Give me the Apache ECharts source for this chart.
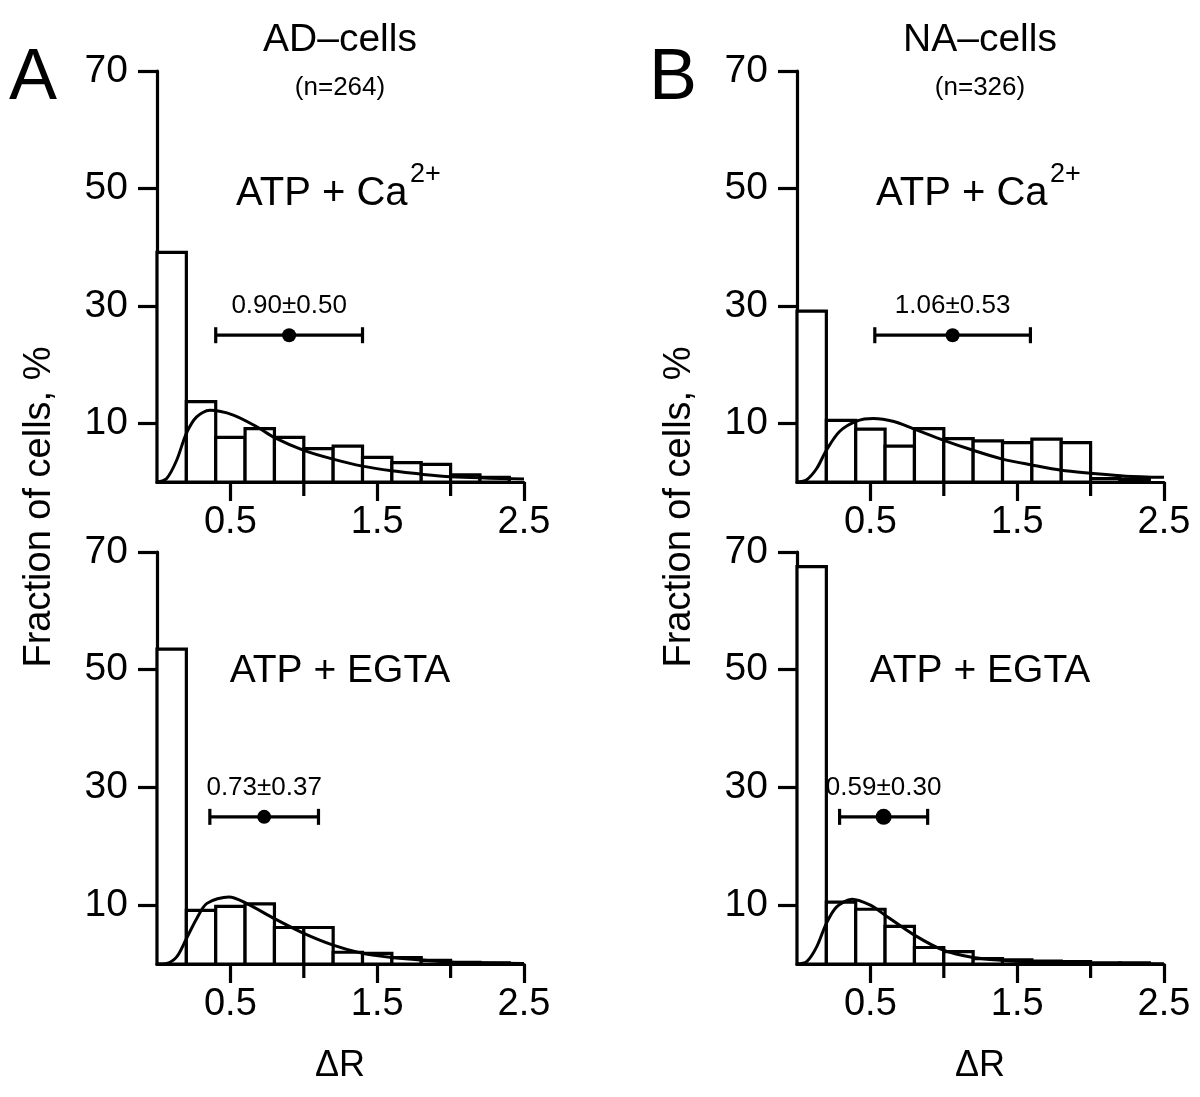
<!DOCTYPE html>
<html><head><meta charset="utf-8">
<script src="https://cdn.jsdelivr.net/npm/echarts@6/dist/echarts.min.js"></script>
<style>html,body{margin:0;padding:0;background:#fff}#c{width:1200px;height:1097px}</style>
</head><body><div id="c"></div>
<script>
// ---------- data ----------
const binEdges = [0, 0.2, 0.4, 0.6, 0.8, 1.0, 1.2, 1.4, 1.6, 1.8, 2.0, 2.2, 2.4];

const adCaBars   = [39.1, 13.7, 7.6, 9.1, 7.6, 5.7, 6.1, 4.2, 3.3, 3.0, 1.2, 0.8];
const adEgtaBars = [53.5, 9.1, 9.8, 10.2, 6.2, 6.2, 2.0, 1.8, 1.1, 0.6, 0.3, 0.2];
const naCaBars   = [29.1, 10.5, 9.0, 6.1, 9.1, 7.4, 7.0, 6.7, 7.3, 6.7, 0.6, 0.5];
const naEgtaBars = [67.5, 10.5, 9.3, 6.4, 2.8, 2.1, 0.9, 0.7, 0.5, 0.4, 0.2, 0.2];

const adCaFitX   = [0, 0.066, 0.134, 0.20, 0.27, 0.36, 0.52, 0.68, 0.79, 1.0, 1.2, 1.4, 1.6, 1.81, 2.0, 2.5];
const adCaFitY   = [0, 0.6, 3.7, 8.3, 11.1, 12.2, 11.4, 9.4, 7.7, 5.4, 3.9, 2.7, 1.9, 1.3, 0.9, 0.5];
const adEgtaFitX = [0, 0.066, 0.134, 0.20, 0.27, 0.34, 0.49, 0.61, 0.80, 1.0, 1.2, 1.4, 1.6, 1.8, 2.0, 2.5];
const adEgtaFitY = [0, 0.1, 1.2, 4.3, 7.7, 10.3, 11.4, 10.3, 7.7, 5.2, 3.2, 1.8, 1.1, 0.7, 0.3, 0.1];
const naCaFitX   = [0, 0.066, 0.134, 0.20, 0.29, 0.41, 0.52, 0.66, 0.79, 1.0, 1.2, 1.4, 1.6, 1.8, 2.0, 2.24, 2.5];
const naCaFitY   = [0, 0.4, 2.3, 5.4, 8.6, 10.4, 10.8, 10.3, 9.1, 7.1, 5.4, 3.9, 2.9, 2.0, 1.5, 1.0, 0.8];
const naEgtaFitX = [0, 0.066, 0.134, 0.20, 0.27, 0.375, 0.50, 0.60, 0.80, 1.0, 1.2, 1.4, 1.6, 2.0, 2.5];
const naEgtaFitY = [0, 0.4, 2.9, 6.9, 9.7, 11.0, 10.0, 8.3, 4.9, 2.3, 1.1, 0.6, 0.3, 0.1, 0.05];

const statMeans = [0.90, 0.73, 1.06, 0.59];   // AD Ca, AD EGTA, NA Ca, NA EGTA
const statSDs   = [0.50, 0.37, 0.53, 0.30];
const statLevel = [25, 25, 25, 25];

const xTickLabels = [0.5, 1.5, 2.5];
const xMinorTicks = [1.0, 2.0];
const yTickLabels = [10, 30, 50, 70];

const columnTitles = ['AD\u2013cells', 'NA\u2013cells'];
const columnCounts = ['(n=264)', '(n=326)'];
const panelLetters = ['A', 'B'];
const conditionLabels = ['ATP + Ca', 'ATP + EGTA'];
const superscript = '2+';
const yAxisTitle = 'Fraction of cells, %';
const xAxisTitle = '\u0394R';

// ---------- layout ----------
const FONT = '"Liberation Sans", Arial, Helvetica, sans-serif';
const LW = 3.2;
const grids = [
  {left: 157, top: 71, width: 367, height: 411},
  {left: 157, top: 552, width: 367, height: 412},
  {left: 797, top: 71, width: 367, height: 411},
  {left: 797, top: 552, width: 367, height: 412}
];
const panels = [
  {bars: adCaBars, fx: adCaFitX, fy: adCaFitY, dot: 7},
  {bars: adEgtaBars, fx: adEgtaFitX, fy: adEgtaFitY, dot: 7},
  {bars: naCaBars, fx: naCaFitX, fy: naCaFitY, dot: 7},
  {bars: naEgtaBars, fx: naEgtaFitX, fy: naEgtaFitY, dot: 8}
];

const xAxes = [], yAxes = [], series = [];
grids.forEach((g, i) => {
  xAxes.push({
    type: 'value', gridIndex: i, min: 0, max: 2.5, position: 'bottom',
    axisLine: {show: true, onZero: false, lineStyle: {color: '#000', width: LW}},
    axisTick: {show: true, length: 19, customValues: xTickLabels, lineStyle: {color: '#000', width: LW}},
    axisLabel: {show: true, customValues: xTickLabels, margin: 22, fontSize: 38, fontFamily: FONT, color: '#000',
      formatter: v => v.toFixed(1)},
    splitLine: {show: false}
  });
  yAxes.push({
    type: 'value', gridIndex: i, min: 0, max: 70, position: 'left',
    axisLine: {show: true, onZero: false, lineStyle: {color: '#000', width: LW}},
    axisTick: {show: true, length: 19, customValues: yTickLabels, lineStyle: {color: '#000', width: LW}},
    axisLabel: {show: true, customValues: yTickLabels, margin: 29, fontSize: 39, fontFamily: FONT, color: '#000'},
    splitLine: {show: false}
  });
});

panels.forEach((p, i) => {
  // short unlabeled ticks at 1.0 and 2.0 (positions from the axis scale)
  series.push({
    type: 'custom', xAxisIndex: i, yAxisIndex: i, z: 5, clip: false,
    data: xMinorTicks.map(v => [v, 0]),
    encode: {x: 0, y: 1},
    renderItem: (params, api) => {
      const c = api.coord([api.value(0), api.value(1)]);
      return {type: 'line', shape: {x1: c[0], y1: c[1], x2: c[0], y2: c[1] + 14},
        style: {stroke: '#000', lineWidth: LW}};
    },
    silent: true
  });
  series.push({
    type: 'custom', xAxisIndex: i, yAxisIndex: i, z: 2, clip: false,
    data: p.bars.map((v, k) => [binEdges[k], binEdges[k + 1], v]),
    encode: {x: [0, 1], y: 2},
    renderItem: (params, api) => {
      const a = api.coord([api.value(0), 0]);
      const b = api.coord([api.value(1), api.value(2)]);
      return {type: 'rect', shape: {x: a[0], y: b[1], width: b[0] - a[0], height: a[1] - b[1]},
        style: {fill: '#fff', stroke: '#000', lineWidth: LW}};
    },
    silent: true
  });
  series.push({
    type: 'line', xAxisIndex: i, yAxisIndex: i, z: 3,
    data: p.fx.map((x, k) => [x, p.fy[k]]),
    smooth: 0.3, showSymbol: false, symbol: 'none',
    lineStyle: {color: '#000', width: 3}, silent: true, animation: false
  });
  series.push({
    type: 'custom', xAxisIndex: i, yAxisIndex: i, z: 4, clip: false,
    data: [[statMeans[i], statSDs[i], statLevel[i]]],
    encode: {x: 0, y: 2},
    renderItem: (params, api) => {
      const m = api.value(0), s = api.value(1), yv = api.value(2);
      const lo = api.coord([m - s, yv]), hi = api.coord([m + s, yv]), c = api.coord([m, yv]);
      const st = {stroke: '#000', lineWidth: LW};
      return {type: 'group', children: [
        {type: 'line', shape: {x1: lo[0], y1: lo[1], x2: hi[0], y2: hi[1]}, style: st},
        {type: 'line', shape: {x1: lo[0], y1: lo[1] - 8, x2: lo[0], y2: lo[1] + 8}, style: st},
        {type: 'line', shape: {x1: hi[0], y1: hi[1] - 8, x2: hi[0], y2: hi[1] + 8}, style: st},
        {type: 'circle', shape: {cx: c[0], cy: c[1], r: p.dot}, style: {fill: '#000'}},
        {type: 'text', x: c[0], y: c[1] - 29, style: {text: m.toFixed(2) + '\u00b1' + s.toFixed(2),
          fontSize: 26, fontFamily: FONT, fill: '#000', align: 'center', verticalAlign: 'middle'}}
      ]};
    },
    silent: true
  });
});

// ---------- text graphics ----------
const graphic = [];
[0, 1].forEach(col => {
  const dx = col * 640;
  graphic.push({type: 'text', x: 33 + dx, y: 79, style: {text: panelLetters[col], fontSize: 72, fontFamily: FONT, fill: '#000', align: 'center', verticalAlign: 'middle'}});
  graphic.push({type: 'text', x: 340 + dx, y: 40, style: {text: columnTitles[col], fontSize: 39, fontFamily: FONT, fill: '#000', align: 'center', verticalAlign: 'middle'}});
  graphic.push({type: 'text', x: 340 + dx, y: 88, style: {text: columnCounts[col], fontSize: 26, fontFamily: FONT, fill: '#000', align: 'center', verticalAlign: 'middle'}});
  graphic.push({type: 'text', x: 236 + dx, y: 194, style: {text: conditionLabels[0], fontSize: 40, fontFamily: FONT, fill: '#000', align: 'left', verticalAlign: 'middle'}});
  graphic.push({type: 'text', x: 410 + dx, y: 175, style: {text: superscript, fontSize: 27, fontFamily: FONT, fill: '#000', align: 'left', verticalAlign: 'middle'}});
  graphic.push({type: 'text', x: 340 + dx, y: 671, style: {text: conditionLabels[1], fontSize: 39, fontFamily: FONT, fill: '#000', align: 'center', verticalAlign: 'middle'}});
  graphic.push({type: 'text', x: 40 + dx, y: 507, rotation: Math.PI / 2, style: {text: yAxisTitle, fontSize: 38, fontFamily: FONT, fill: '#000', align: 'center', verticalAlign: 'middle'}});
  graphic.push({type: 'text', x: 340 + dx, y: 1066, style: {text: xAxisTitle, fontSize: 36, fontFamily: FONT, fill: '#000', align: 'center', verticalAlign: 'middle'}});
});

const chart = echarts.init(document.getElementById('c'), null, {renderer: 'canvas'});
chart.setOption({
  animation: false,
  backgroundColor: '#fff',
  grid: grids,
  xAxis: xAxes,
  yAxis: yAxes,
  series: series,
  graphic: graphic
});
</script>
</body></html>
